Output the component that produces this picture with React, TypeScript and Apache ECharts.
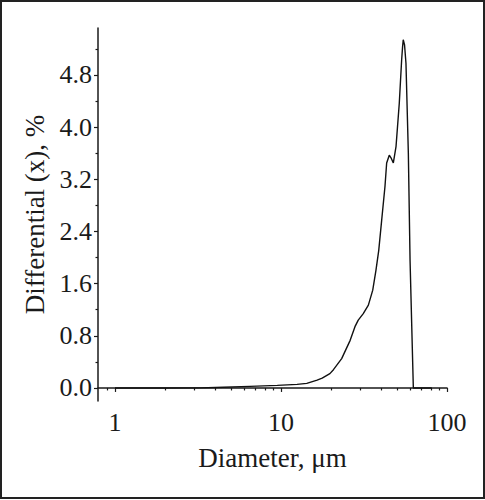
import React, { useEffect, useRef } from "react";
import * as echarts from "echarts";

const diameters = [1.0, 2.0, 3.25, 4.5, 6.5, 9.5, 12.5, 14.3, 16.5, 17.7, 19.7, 20.7, 23.2, 26.1, 27.9, 29.2, 31.3, 33.6, 35.7, 37.3, 38.8, 40.4, 42.3, 43.3, 44.9, 46.2, 47.5, 49.3, 51.6, 53.3, 54.0, 54.5, 55.5, 56.6, 58.5, 59.9, 62.7, 80.9];
const values = [0, 0, 0.002, 0.012, 0.025, 0.04, 0.055, 0.07, 0.12, 0.15, 0.22, 0.28, 0.45, 0.73, 0.94, 1.04, 1.14, 1.27, 1.5, 1.8, 2.11, 2.57, 3.09, 3.45, 3.57, 3.52, 3.45, 3.7, 4.37, 5.03, 5.23, 5.34, 5.26, 4.98, 3.6, 1.96, 0.0, 0.0];

const xMajorTicks = [1, 10, 100];
const xMinorTicks = [0.9, 2, 3, 4, 5, 6, 7, 8, 9, 20, 30, 40, 50, 60, 70, 80, 90];
const yMajorTicks = [0, 0.8, 1.6, 2.4, 3.2, 4.0, 4.8];
const yMinorTicks = [0.4, 1.2, 2.0, 2.8, 3.6, 4.4, 5.2];

const xTitle = "Diameter, \u03bcm";
const yTitle = "Differential (x), %";

const FONT = "Liberation Serif, Times New Roman, serif";
const INK = "#1a1a1a";

export default function App() {
  const ref = useRef<HTMLDivElement>(null);
  useEffect(() => {
    if (!ref.current) return;
    const chart = echarts.init(ref.current, undefined, { renderer: "svg" });
    const axisLine = { show: true, lineStyle: { color: INK, width: 1.5 } };
    chart.setOption({
      animation: false,
      backgroundColor: "#ffffff",
      grid: { left: 98, right: 38, top: 28, bottom: 99, containLabel: false },
      graphic: [
        {
          type: "rect",
          shape: { x: 1, y: 1, width: 483, height: 497 },
          style: { fill: "none", stroke: "#222", lineWidth: 2 },
          silent: true,
        },
      ],
      xAxis: [
        {
          type: "log",
          logBase: 10,
          min: 0.79,
          max: 100,
          position: "bottom",
          axisLine,
          axisTick: { show: true, customValues: xMajorTicks, length: 4, lineStyle: { color: INK, width: 1.2 } },
          axisLabel: {
            show: true,
            customValues: xMajorTicks,
            formatter: (v: number) => String(Math.round(v)),
            margin: 8,
            fontSize: 26,
            fontFamily: FONT,
            color: INK,
          },
          minorTick: { show: false },
          splitLine: { show: false },
          name: xTitle,
          nameLocation: "middle",
          nameGap: 43,
          nameTextStyle: { fontSize: 27, fontFamily: FONT, color: INK },
        },
        {
          type: "log",
          logBase: 10,
          min: 0.79,
          max: 100,
          position: "bottom",
          axisLine: { show: false },
          axisTick: { show: true, customValues: xMinorTicks, length: 2.5, lineStyle: { color: INK, width: 1.2 } },
          axisLabel: { show: false },
          splitLine: { show: false },
        },
      ],
      yAxis: [
        {
          type: "value",
          min: -0.2,
          max: 5.52,
          position: "left",
          axisLine,
          axisTick: { show: true, customValues: yMajorTicks, length: 4, lineStyle: { color: INK, width: 1.2 } },
          axisLabel: {
            show: true,
            customValues: yMajorTicks,
            formatter: (v: number) => v.toFixed(1),
            margin: 6,
            fontSize: 26,
            fontFamily: FONT,
            color: INK,
          },
          splitLine: { show: false },
          name: yTitle,
          nameLocation: "middle",
          nameRotate: 90,
          nameGap: 50,
          nameTextStyle: { fontSize: 27, fontFamily: FONT, color: INK },
        },
        {
          type: "value",
          min: -0.2,
          max: 5.52,
          position: "left",
          axisLine: { show: false },
          axisTick: { show: true, customValues: yMinorTicks, length: 2.5, lineStyle: { color: INK, width: 1.2 } },
          axisLabel: { show: false },
          splitLine: { show: false },
        },
      ],
      series: [
        {
          type: "line",
          xAxisIndex: 0,
          yAxisIndex: 0,
          data: diameters.map((d, i) => [d, values[i]]),
          showSymbol: false,
          smooth: false,
          lineStyle: { color: "#111", width: 1.4 },
        },
      ],
    });
    return () => chart.dispose();
  }, []);
  return (
    <div
      ref={ref}
      style={{ position: "absolute", left: 0, top: 0, width: 485, height: 500 }}
    />
  );
}
